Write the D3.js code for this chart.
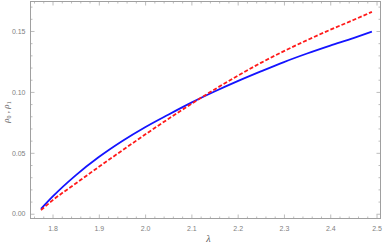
<!DOCTYPE html>
<html>
<head>
<meta charset="utf-8">
<script src="https://cdn.jsdelivr.net/npm/d3@7"></script>
<style>
  body { margin: 0; background: #fff; }
  svg { display: block; }
  .tick text { font-family: "Liberation Sans", Arial, sans-serif; font-size: 7px; fill: #808080; }
</style>
</head>
<body>
<div id="chart"></div>
<script>
// lambda values
const lambda = [1.775, 1.80, 1.85, 1.90, 1.95, 2.00, 2.05, 2.10, 2.15, 2.20, 2.25, 2.30, 2.35, 2.40, 2.45, 2.49];
// rho0 - blue solid
const rho0 = [0.0040, 0.0140, 0.0315, 0.0465, 0.0595, 0.0710, 0.0813, 0.0912, 0.1003, 0.1088, 0.1168, 0.1245, 0.1315, 0.1380, 0.1442, 0.1495];
// rho1 - red dashed
const rho1 = [0.0030, 0.0110, 0.0248, 0.0385, 0.0518, 0.0650, 0.0778, 0.0902, 0.1020, 0.1132, 0.1238, 0.1335, 0.1425, 0.1510, 0.1590, 0.1657];
const xTicks = [1.8, 1.9, 2.0, 2.1, 2.2, 2.3, 2.4, 2.5];
const yTicks = [0.00, 0.05, 0.10, 0.15];

const width = 384, height = 245;
const margin = {left: 30.5, right: 3.5, top: 1.5, bottom: 26.5};

const x = d3.scaleLinear().domain([1.7524, 2.5086]).range([margin.left, width - margin.right]);
const y = d3.scaleLinear().domain([-0.0039, 0.1742]).range([height - margin.bottom, margin.top]);

const svg = d3.select("#chart").append("svg")
    .attr("width", width)
    .attr("height", height);

const frameColor = "#a0a0a0";

// minor ticks
const xMinor = d3.range(1.76, 2.51, 0.02).filter(v => !xTicks.some(t => Math.abs(t - v) < 1e-6));
const yMinor = d3.range(0, 0.171, 0.01).filter(v => !yTicks.some(t => Math.abs(t - v) < 1e-6));

function addAxis(axis, transform, labels) {
    const g = svg.append("g").attr("transform", transform).call(axis);
    g.select(".domain").remove();
    g.selectAll(".tick line").attr("stroke", frameColor).attr("stroke-width", 0.7);
    if (!labels) g.selectAll(".tick text").remove();
    return g;
}

const yb = y.range()[0], yt = y.range()[1], xl = x.range()[0], xr = x.range()[1];

// bottom
addAxis(d3.axisBottom(x).tickValues(xTicks).tickSize(-4).tickPadding(8).tickFormat(d3.format(".1f")), `translate(0,${yb})`, true);
addAxis(d3.axisBottom(x).tickValues(xMinor).tickSize(-2).tickFormat(""), `translate(0,${yb})`, false);
// top
addAxis(d3.axisTop(x).tickValues(xTicks).tickSize(-4).tickFormat(""), `translate(0,${yt})`, false);
addAxis(d3.axisTop(x).tickValues(xMinor).tickSize(-2).tickFormat(""), `translate(0,${yt})`, false);
// left
addAxis(d3.axisLeft(y).tickValues(yTicks).tickSize(-4).tickPadding(5).tickFormat(d3.format(".2f")), `translate(${xl},0)`, true);
addAxis(d3.axisLeft(y).tickValues(yMinor).tickSize(-2).tickFormat(""), `translate(${xl},0)`, false);
// right
addAxis(d3.axisRight(y).tickValues(yTicks).tickSize(-4).tickFormat(""), `translate(${xr},0)`, false);
addAxis(d3.axisRight(y).tickValues(yMinor).tickSize(-2).tickFormat(""), `translate(${xr},0)`, false);

// frame
svg.append("rect")
    .attr("x", xl).attr("y", yt)
    .attr("width", xr - xl).attr("height", yb - yt)
    .attr("fill", "none")
    .attr("stroke", frameColor)
    .attr("stroke-width", 1);

const line = d3.line()
    .x(function(d, i) { return x(lambda[i]); })
    .y(function(d) { return y(d); })
    .curve(d3.curveMonotoneX);

svg.append("path")
    .attr("d", line(rho0))
    .style("fill", "none")
    .style("stroke", "#1414ff")
    .style("stroke-width", "1.8px");

svg.append("path")
    .attr("d", line(rho1))
    .style("fill", "none")
    .style("stroke", "#ff1a1a")
    .style("stroke-width", "1.8px")
    .style("stroke-dasharray", "4,2");

// axis labels
svg.append("text")
    .attr("x", (xl + xr) / 2 + 3)
    .attr("y", 242)
    .attr("text-anchor", "middle")
    .style("font-family", "'Liberation Serif', 'Times New Roman', serif")
    .style("font-style", "italic")
    .style("font-size", "10px")
    .style("fill", "#555")
    .text("λ");

const ylab = svg.append("text")
    .attr("transform", `translate(9,${(yt + yb) / 2 + 2}) rotate(-90)`)
    .attr("text-anchor", "middle")
    .style("font-family", "'Liberation Serif', 'Times New Roman', serif")
    .style("font-style", "italic")
    .style("font-size", "9px")
    .style("fill", "#555");
ylab.append("tspan").text("ρ");
ylab.append("tspan").attr("dy", 2).style("font-size", "6px").style("font-style", "normal").text("0");
ylab.append("tspan").attr("dy", -2).style("font-style", "normal").text(" , ");
ylab.append("tspan").text("ρ");
ylab.append("tspan").attr("dy", 2).style("font-size", "6px").style("font-style", "normal").text("1");
</script>
</body>
</html>
